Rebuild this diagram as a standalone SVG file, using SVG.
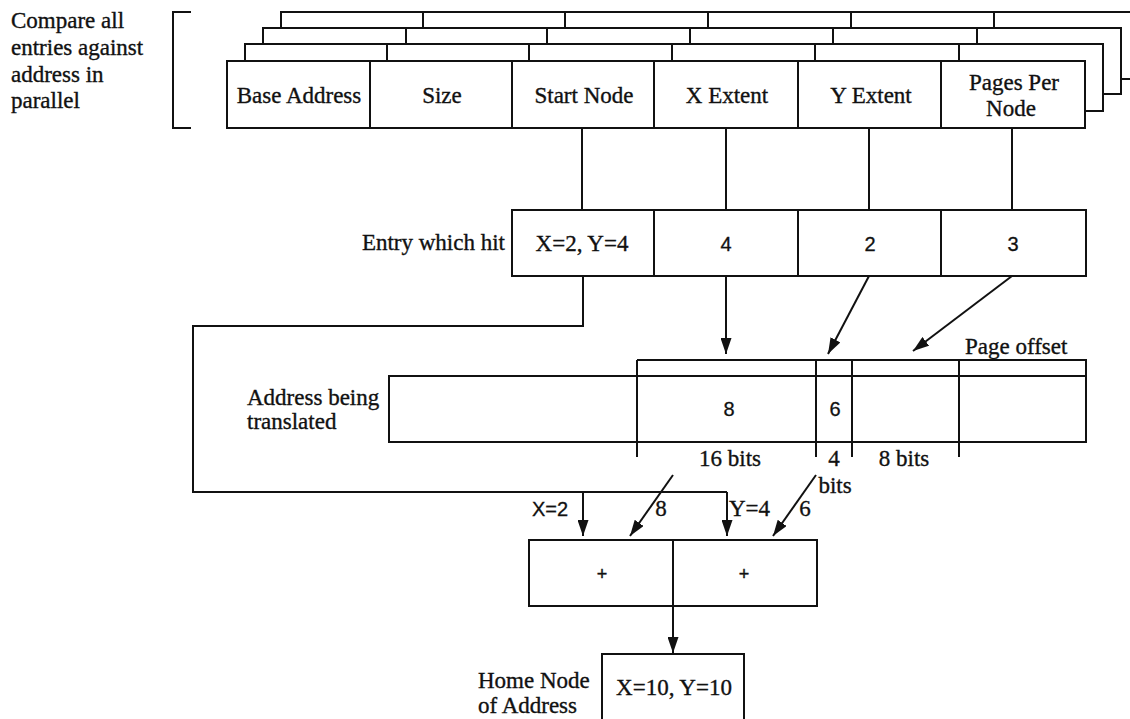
<svg xmlns="http://www.w3.org/2000/svg" width="1130" height="719" viewBox="0 0 1130 719">
  <style>
    .ln { fill: none; stroke: #111; stroke-width: 2; }
    .box { fill: #fff; stroke: #111; stroke-width: 2; }
    .t { font-family: "Liberation Serif", "Times New Roman", serif; font-size: 23px; fill: #111; stroke: #111; stroke-width: 0.35; }
    .s { font-family: "Liberation Sans", Arial, sans-serif; font-size: 20px; fill: #111; stroke: #111; stroke-width: 0.3; }
    .p { font-family: "Liberation Sans", Arial, sans-serif; font-size: 18px; fill: #111; stroke: #111; stroke-width: 0.4; }
    .m { text-anchor: middle; }
    .e { text-anchor: end; }
  </style>
  <defs>
    <marker id="arrow" viewBox="0 0 16 11" refX="16" refY="5.5" markerWidth="16" markerHeight="11" markerUnits="userSpaceOnUse" orient="auto">
      <path d="M0,0 L16,5.5 L0,11 Z" fill="#111"/>
    </marker>
  </defs>
  <rect width="1130" height="719" fill="#fff"/>

  <!-- caption and bracket for the stacked table entries -->
  <g id="caption">
    <text class="t" x="11" y="28">Compare all</text>
    <text class="t" x="11" y="55">entries against</text>
    <text class="t" x="11" y="82">address in</text>
    <text class="t" x="11" y="108">parallel</text>
    <path class="ln" d="M191,12 H173 V128 H191"/>
  </g>

  <!-- stacked entries, back to front -->
  <g id="entry-layer-3">
    <rect class="box" x="281" y="12" width="858" height="67"/>
    <path class="ln" d="M423,12 V28 M565,12 V28 M708,12 V28 M851,12 V28 M994,12 V28"/>
  </g>
  <g id="entry-layer-2">
    <rect class="box" x="263" y="28" width="858" height="66"/>
    <path class="ln" d="M406,28 V44 M547,28 V44 M690,28 V44 M833,28 V44 M977,28 V44"/>
  </g>
  <g id="entry-layer-1">
    <rect class="box" x="245" y="44" width="858" height="67"/>
    <path class="ln" d="M387,44 V61 M529,44 V61 M672,44 V61 M815,44 V61 M959,44 V61"/>
  </g>
  <g id="entry-fields">
    <rect class="box" x="227" y="61" width="858" height="67"/>
    <path class="ln" d="M370,61 V128 M512,61 V128 M654,61 V128 M798,61 V128 M941,61 V128"/>
    <text class="t m" x="299" y="103">Base Address</text>
    <text class="t m" x="442" y="103">Size</text>
    <text class="t m" x="584" y="103">Start Node</text>
    <text class="t m" x="727" y="103">X Extent</text>
    <text class="t m" x="871" y="103">Y Extent</text>
    <text class="t m" x="1014" y="90">Pages Per</text>
    <text class="t m" x="1011" y="116">Node</text>
  </g>

  <!-- matching entry -->
  <g id="entry-hit">
    <text class="t e" x="505" y="250">Entry which hit</text>
    <rect class="box" x="512" y="210" width="574" height="66"/>
    <path class="ln" d="M654,210 V276 M798,210 V276 M941,210 V276"/>
    <text class="t m" x="582" y="251">X=2, Y=4</text>
    <text class="s m" x="726" y="251">4</text>
    <text class="s m" x="870" y="251">2</text>
    <text class="s m" x="1013" y="251">3</text>
  </g>

  <!-- address split into bit fields -->
  <g id="address">
    <text class="t" x="247" y="405">Address being</text>
    <text class="t" x="247" y="429">translated</text>
    <rect class="box" x="389" y="376" width="697" height="66"/>
    <path class="ln" d="M637,360 H1086 V376 M637,360 V457 M816,360 V457 M852,360 V457 M959,360 V457"/>
    <text class="t" x="965" y="354">Page offset</text>
    <text class="s m" x="729" y="416">8</text>
    <text class="s m" x="835" y="416">6</text>
    <text class="t m" x="730" y="466">16 bits</text>
    <text class="t m" x="834" y="466">4</text>
    <text class="t m" x="835" y="493">bits</text>
    <text class="t m" x="904" y="466">8 bits</text>
  </g>

  <!-- adders -->
  <g id="adder">
    <rect class="box" x="529" y="540" width="288" height="66"/>
    <path class="ln" d="M673,540 V606"/>
    <text class="p m" x="602" y="580">+</text>
    <text class="p m" x="744" y="580">+</text>
  </g>

  <!-- resulting home node -->
  <g id="home-node">
    <text class="t" x="478" y="688">Home Node</text>
    <text class="t" x="478" y="713">of Address</text>
    <path class="ln" d="M602,720 V654 H744 V720"/>
    <text class="t m" x="674" y="695">X=10, Y=10</text>
  </g>

  <g id="connectors">
    <!-- fields feeding the matching entry -->
    <path class="ln" d="M582,128 V210 M726,128 V210 M869,128 V210 M1012,128 V210"/>
    <!-- extents and page count select address bits -->
    <path class="ln" d="M726,276 V354" marker-end="url(#arrow)"/>
    <path class="ln" d="M869,276 L828,354" marker-end="url(#arrow)"/>
    <path class="ln" d="M1012,276 L913,351" marker-end="url(#arrow)"/>
    <!-- start node routed around to the adders -->
    <path class="ln" d="M583,276 V326 H193 V492 H727"/>
    <path class="ln" d="M583,492 V536" marker-end="url(#arrow)"/>
    <path class="ln" d="M727,492 V536" marker-end="url(#arrow)"/>
    <!-- selected address bits into the adders -->
    <path class="ln" d="M673,475 L630,536" marker-end="url(#arrow)"/>
    <path class="ln" d="M816,475 L773,536" marker-end="url(#arrow)"/>
    <!-- sum to home node -->
    <path class="ln" d="M673,606 V653" marker-end="url(#arrow)"/>
    <!-- operand labels -->
    <text class="s" x="532" y="516">X=2</text>
    <text class="t m" x="661" y="516">8</text>
    <text class="t" x="729" y="516">Y=4</text>
    <text class="t m" x="805" y="516">6</text>
  </g>
</svg>
